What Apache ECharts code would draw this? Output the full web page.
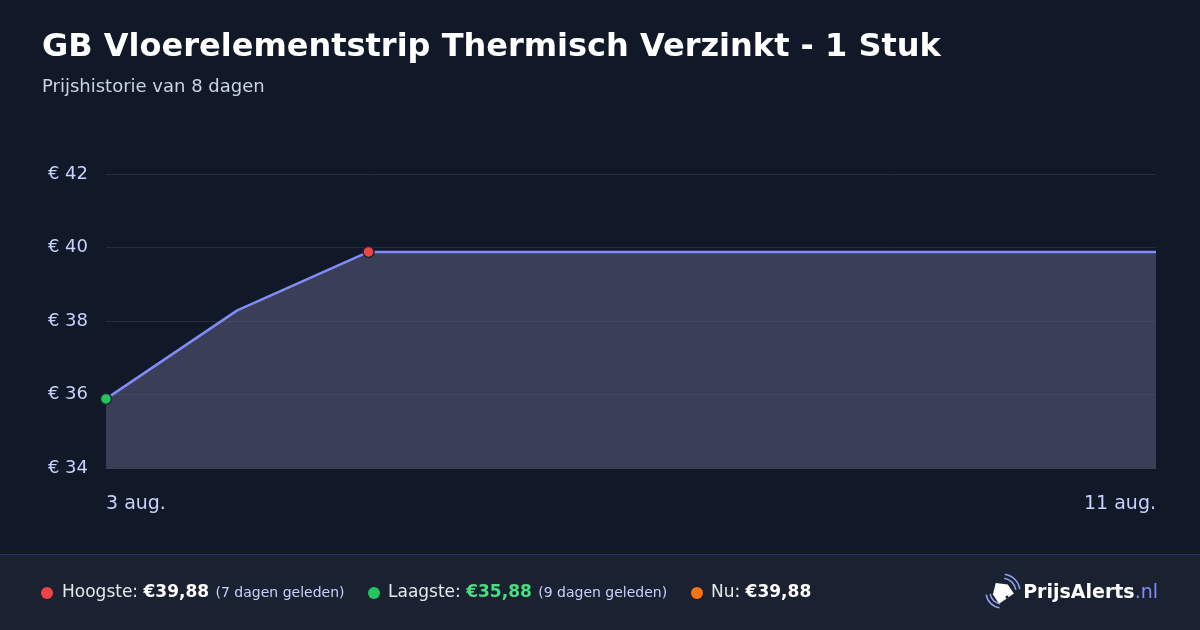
<!DOCTYPE html>
<html>
<head>
<meta charset="utf-8">
<style>
  html, body { margin: 0; padding: 0; background: #111827; }
  #chart { width: 1200px; height: 630px; }
</style>
<script src="https://cdn.jsdelivr.net/npm/echarts@6/dist/echarts.min.js"></script>
</head>
<body>
<div id="chart"></div>
<script>
const titleText = 'GB Vloerelementstrip Thermisch Verzinkt - 1 Stuk';
const subtitleText = 'Prijshistorie van 8 dagen';
const dates = ['3 aug.', '4 aug.', '5 aug.', '6 aug.', '7 aug.', '8 aug.', '9 aug.', '10 aug.', '11 aug.'];
const prices = [35.88, 38.29, 39.88, 39.88, 39.88, 39.88, 39.88, 39.88, 39.88];
const yTicks = [34, 36, 38, 40, 42];
const footerHigh = { label: 'Hoogste: ', value: '€39,88', note: '(7 dagen geleden)' };
const footerLow = { label: 'Laagste: ', value: '€35,88', note: '(9 dagen geleden)' };
const footerNow = { label: 'Nu: ', value: '€39,88' };

const FONT = 'DejaVu Sans';
const maxVal = Math.max(...prices);
const minVal = Math.min(...prices);
const maxIdx = prices.indexOf(maxVal);
const minIdx = prices.indexOf(minVal);

const seriesData = prices.map((v, i) => {
  if (i === maxIdx) return { value: v, symbol: 'circle', symbolSize: 11, itemStyle: { color: '#ef4444', borderColor: '#1f2433', borderWidth: 1.5 } };
  if (i === minIdx) return { value: v, symbol: 'circle', symbolSize: 11, itemStyle: { color: '#22c55e', borderColor: '#1f2433', borderWidth: 1.5 } };
  return { value: v, symbol: 'none' };
});

const chart = echarts.init(document.getElementById('chart'), null, { renderer: 'canvas' });

const footerY = 593;
const arcStyle = { stroke: '#8fa0e8', lineWidth: 1.6, fill: null };
const LX = 1002, LY = 592;
const option = {
  backgroundColor: '#111827',
  animation: false,
  title: [
    { text: titleText, left: 42, top: 32, padding: 0, textStyle: { color: '#ffffff', fontFamily: FONT, fontWeight: 'bold', fontSize: 32 } },
    { text: subtitleText, left: 42, top: 78, padding: 0, textStyle: { color: '#cbd5e1', fontFamily: FONT, fontWeight: 'normal', fontSize: 18 } }
  ],
  grid: { left: 106, right: 44, top: 174, bottom: 162, containLabel: false },
  xAxis: {
    type: 'category',
    data: dates,
    boundaryGap: false,
    axisLine: { show: true, lineStyle: { color: '#3a4150', width: 1 } },
    axisTick: { show: false },
    splitLine: { show: false },
    axisLabel: {
      interval: (i) => i === 0 || i === dates.length - 1,
      color: '#c7d2fe',
      fontFamily: FONT,
      fontSize: 19,
      margin: 27,
      alignMinLabel: 'left',
      alignMaxLabel: 'right'
    }
  },
  yAxis: {
    type: 'value',
    min: yTicks[0],
    max: yTicks[yTicks.length - 1],
    interval: 2,
    axisLine: { show: false },
    axisTick: { show: false },
    splitLine: { show: true, lineStyle: { color: '#252c3c', width: 1 } },
    axisLabel: {
      formatter: (v) => '€ ' + v,
      color: '#c7d2fe',
      fontFamily: FONT,
      fontSize: 18,
      margin: 18
    }
  },
  series: [{
    type: 'line',
    data: seriesData,
    symbol: 'none',
    lineStyle: { color: '#818cf8', width: 2.5 },
    areaStyle: { color: 'rgba(99,100,135,0.5)', opacity: 1 },
    z: 3
  }],
  graphic: [
    { type: 'rect', shape: { x: 0, y: 554, width: 1200, height: 76 }, style: { fill: '#1a2232' }, z: 0 },
    { type: 'rect', shape: { x: 0, y: 554, width: 1200, height: 1 }, style: { fill: '#283260' }, z: 1 },
    { type: 'circle', shape: { cx: 47, cy: footerY, r: 6 }, style: { fill: '#ef4444' }, z: 2 },
    { type: 'text', x: 62, y: footerY, z: 2, style: {
      text: '{l|' + footerHigh.label + '}{v|' + footerHigh.value + '}{n| ' + footerHigh.note + '}',
      verticalAlign: 'middle',
      rich: {
        l: { fill: '#e5e7eb', fontFamily: FONT, fontSize: 17 },
        v: { fill: '#ffffff', fontFamily: FONT, fontSize: 17, fontWeight: 'bold' },
        n: { fill: '#c7d2fe', fontFamily: FONT, fontSize: 14, padding: [0, 0, 0, 2] }
      }
    } },
    { type: 'circle', shape: { cx: 374, cy: footerY, r: 6 }, style: { fill: '#22c55e' }, z: 2 },
    { type: 'text', x: 388, y: footerY, z: 2, style: {
      text: '{l|' + footerLow.label + '}{v|' + footerLow.value + '}{n| ' + footerLow.note + '}',
      verticalAlign: 'middle',
      rich: {
        l: { fill: '#e5e7eb', fontFamily: FONT, fontSize: 17 },
        v: { fill: '#4ade80', fontFamily: FONT, fontSize: 17, fontWeight: 'bold' },
        n: { fill: '#c7d2fe', fontFamily: FONT, fontSize: 14, padding: [0, 0, 0, 2] }
      }
    } },
    { type: 'circle', shape: { cx: 697, cy: footerY, r: 6 }, style: { fill: '#f97316' }, z: 2 },
    { type: 'text', x: 711, y: footerY, z: 2, style: {
      text: '{l|' + footerNow.label + '}{v|' + footerNow.value + '}',
      verticalAlign: 'middle',
      rich: {
        l: { fill: '#e5e7eb', fontFamily: FONT, fontSize: 17 },
        v: { fill: '#ffffff', fontFamily: FONT, fontSize: 17, fontWeight: 'bold' }
      }
    } },
    // logo icon: tag (house shape tilted to the upper-left)
    { type: 'polygon', x: LX, y: LY, rotation: 0.6, z: 2,
      shape: { points: [[0, -11], [9, -3], [9, 8], [-9, 8], [-9, -3]] }, style: { fill: '#ffffff' } },
    { type: 'circle', z: 3, shape: { cx: LX + 5, cy: LY + 5, r: 1.5 }, style: { fill: '#1a2232' } },
    { type: 'arc', z: 2, shape: { cx: LX, cy: LY, r: 14, startAngle: Math.PI * 1.55, endAngle: Math.PI * 1.95 }, style: arcStyle },
    { type: 'arc', z: 2, shape: { cx: LX, cy: LY, r: 18, startAngle: Math.PI * 1.55, endAngle: Math.PI * 1.95 }, style: arcStyle },
    { type: 'arc', z: 2, shape: { cx: LX, cy: LY, r: 12, startAngle: Math.PI * 0.55, endAngle: Math.PI * 0.95 }, style: arcStyle },
    { type: 'arc', z: 2, shape: { cx: LX, cy: LY, r: 16, startAngle: Math.PI * 0.55, endAngle: Math.PI * 0.95 }, style: arcStyle },
    { type: 'text', x: 1158, y: footerY, z: 2, style: {
      text: '{b|PrijsAlerts}{n|.nl}',
      align: 'right',
      verticalAlign: 'middle',
      rich: {
        b: { fill: '#ffffff', fontFamily: FONT, fontSize: 19, fontWeight: 'bold' },
        n: { fill: '#818cf8', fontFamily: FONT, fontSize: 19 }
      }
    } }
  ]
};
chart.setOption(option);
</script>
</body>
</html>
